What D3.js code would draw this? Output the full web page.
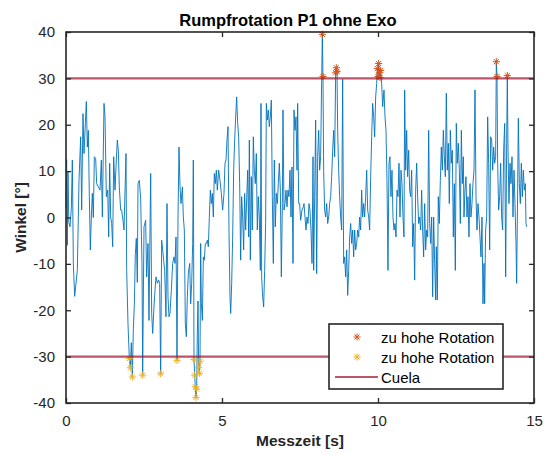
<!DOCTYPE html>
<html>
<head>
<meta charset="utf-8">
<script src="https://cdn.jsdelivr.net/npm/d3@7/dist/d3.min.js"></script>
<style>
  html, body { margin: 0; padding: 0; background: #fff; }
  svg { display: block; font-family: Arial, "Liberation Sans", Helvetica, sans-serif; }
</style>
</head>
<body>
<svg id="chart" width="545" height="454"></svg>
<script>
// Rumpfrotation, P1 ohne Exo: [Messzeit s, Winkel °]
const rotation = [
  [0.000, 2], [0.020, 12.5], [0.040, -6], [0.064, 10], [0.090, -1], [0.128, -2], [0.171, 2],
  [0.203, 12.4], [0.235, -10], [0.278, -17], [0.363, -11.4], [0.417, 8], [0.470, 17.4],
  [0.502, 1.6], [0.545, 22.4], [0.577, 13.8], [0.620, 20.3], [0.652, 25], [0.684, 15.2],
  [0.716, 18.8], [0.748, 4.5], [0.780, -7], [0.812, 0.1], [0.844, 5.2], [0.876, 0],
  [0.908, 13.1], [0.951, 12.7], [0.983, 7.3], [1.036, 6.6], [1.090, 5.9], [1.133, 12.4],
  [1.165, 0.1], [1.218, 24.6], [1.250, 21.7], [1.293, 4.5], [1.336, 5.9], [1.368, -4.2],
  [1.400, 11.7], [1.432, 0.1], [1.464, -1.3], [1.496, -6.3], [1.528, 13.1], [1.571, 5.9],
  [1.613, 12.4], [1.645, 16.7], [1.677, 14.5], [1.709, 6.6], [1.752, 1.6], [1.784, 1.6],
  [1.827, -0.6], [1.859, -2.7], [1.923, 13.8], [1.945, -11.4], [1.987, -22.9], [2.030, -30.4],
  [2.062, -32.4], [2.094, -27], [2.126, -34.4], [2.158, -24], [2.190, -19], [2.222, -8],
  [2.254, -4.5], [2.286, -14], [2.308, 7.3], [2.350, 8], [2.393, 4], [2.436, -10], [2.457, -34],
  [2.500, -2], [2.553, -0.6], [2.585, -12.8], [2.628, -5.6], [2.660, -22.2], [2.692, -2.7],
  [2.714, 9.5], [2.746, -20.7], [2.778, -25], [2.820, -19.3], [2.853, -15.7], [2.885, -12.8],
  [2.927, -14.2], [2.970, -13.5], [3.002, -14.2], [3.034, -33.7], [3.066, -4.9], [3.098, -7],
  [3.130, -9.2], [3.162, -11.4], [3.205, -21.4], [3.237, 3], [3.269, -17.1], [3.301, -21.4],
  [3.333, -20.7], [3.376, -15.7], [3.419, -9.9], [3.462, -8.5], [3.494, -9.9], [3.526, -4.2],
  [3.558, -30.8], [3.590, 0.1], [3.622, 15.2], [3.654, 6.6], [3.686, 3], [3.729, 6.6],
  [3.761, 0.1], [3.793, -2.7], [3.825, -22.9], [3.857, -25.7], [3.889, -17.1], [3.921, -12.1],
  [3.964, -9.9], [3.996, -18.6], [4.028, -14.2], [4.060, -5.6], [4.081, 12.4], [4.103, -30.6],
  [4.124, -34], [4.145, -36.5], [4.167, -38.8], [4.188, -37], [4.209, -25], [4.231, -18],
  [4.252, -32.3], [4.274, -33.6], [4.295, -31], [4.316, -5.6], [4.338, -18.6], [4.370, -22.2],
  [4.402, -8.5], [4.434, -9.2], [4.466, -5.6], [4.498, -5.6], [4.530, -4.9], [4.562, -6.3],
  [4.594, 0.1], [4.626, 5.9], [4.658, 3], [4.690, 5.2], [4.722, 0.1], [4.754, 9.5],
  [4.786, 7.3], [4.818, 10.2], [4.850, 5.9], [4.893, 10.2], [4.936, 8], [4.979, 5.2],
  [5.021, 1.6], [5.064, 5.2], [5.096, 11.7], [5.128, 12.4], [5.160, 16.7], [5.192, 19.6],
  [5.224, -2.7], [5.256, -17.1], [5.278, -20.7], [5.310, -14.2], [5.342, -4.2], [5.374, 10.2],
  [5.406, 16.7], [5.438, 21.7], [5.470, 26], [5.502, 20.3], [5.534, 17.4], [5.566, 7.3],
  [5.598, -9.2], [5.630, 4.5], [5.662, 0.1], [5.694, -7], [5.726, 5.2], [5.758, -2.7],
  [5.790, 3.8], [5.823, 10.2], [5.855, -4.2], [5.876, 16.7], [5.908, -9.2], [5.940, 8.8],
  [5.972, -2.7], [6.004, 17.4], [6.036, 10.2], [6.068, 7.3], [6.100, 13.8], [6.132, -2.7],
  [6.164, 4.5], [6.196, 0.1], [6.229, -11.4], [6.250, 24.6], [6.271, -12.8], [6.303, -17.1],
  [6.335, -19.3], [6.367, -11.4], [6.399, -1.3], [6.421, 24.6], [6.453, 21], [6.485, 23.2],
  [6.517, 19.6], [6.549, 21.7], [6.581, 25.3], [6.613, 4.5], [6.645, -9.9], [6.677, 12.4],
  [6.709, -2], [6.741, 5.2], [6.773, 3], [6.805, 7.3], [6.837, 11.7], [6.870, 5.9],
  [6.902, -12.8], [6.934, 3], [6.955, 23.2], [6.987, 1.6], [7.019, 3], [7.051, 5.9],
  [7.083, 2.3], [7.115, 5.9], [7.147, 4.5], [7.179, 10.2], [7.211, 0.1], [7.244, 10.9],
  [7.276, -9.9], [7.308, 23.2], [7.340, 18.8], [7.372, 21.7], [7.404, 10.2], [7.425, 24.6],
  [7.457, 3], [7.489, 3], [7.521, -0.6], [7.564, 1.6], [7.607, 2.3], [7.628, 3],
  [7.660, 0.1], [7.692, -2.7], [7.724, 0.1], [7.756, -1.3], [7.788, 3], [7.820, 1.6],
  [7.852, -2.7], [7.885, -9.9], [7.917, 13.1], [7.938, -11.4], [7.970, 4.5], [8.002, 21],
  [8.034, -12.1], [8.066, 13.1], [8.098, 18.8], [8.130, 10.2], [8.162, 13.1], [8.194, 29.6],
  [8.216, 39.5], [8.237, 30.4], [8.258, 10.2], [8.290, 1.6], [8.322, 0.1], [8.355, 3],
  [8.387, -1.3], [8.419, 0.1], [8.451, 3], [8.483, 4.5], [8.515, 8.8], [8.547, 14.5],
  [8.579, 18.8], [8.611, 13.1], [8.643, 31.2], [8.664, 32.3], [8.686, 31.5], [8.707, 18.8],
  [8.739, 10.2], [8.771, 4.5], [8.803, 0.1], [8.835, -2.7], [8.867, 29.8], [8.899, -9.9],
  [8.931, -8.5], [8.963, -12.8], [8.996, -7], [9.028, -16.8], [9.060, -11.4], [9.092, -4.2],
  [9.124, -1.3], [9.156, -5.6], [9.188, -2.7], [9.220, -8.5], [9.252, -2.7], [9.284, -7],
  [9.316, -5.6], [9.348, -2.7], [9.380, -4.2], [9.412, 0.1], [9.444, -2.7], [9.476, 5.9],
  [9.508, 0.1], [9.540, 3], [9.572, 0.1], [9.604, 4.5], [9.637, 10.2], [9.669, 1.6],
  [9.701, 0.1], [9.733, -2.7], [9.765, 8.8], [9.797, 17.4], [9.829, 24.6], [9.861, 21.7],
  [9.893, 17.4], [9.925, 26], [9.957, 28.9], [9.979, 32.1], [10.000, 30.4], [10.021, 33.2],
  [10.043, 31.2], [10.064, 30.2], [10.085, 31.7], [10.117, 28.9], [10.150, 23.9], [10.192, 27.5],
  [10.224, 21.7], [10.256, 18.8], [10.288, 8], [10.320, -11.4], [10.352, 11.7], [10.384, 13.1],
  [10.416, 4.5], [10.448, 10.2], [10.480, 0.1], [10.513, -2.7], [10.545, -1.3], [10.577, -4.2],
  [10.609, 5.9], [10.641, 4.5], [10.673, 11.7], [10.705, 0.1], [10.737, 10.2], [10.769, 7.3],
  [10.801, 0.1], [10.833, -4.2], [10.854, 27.5], [10.886, 10.2], [10.918, 18.8], [10.950, 8.8],
  [10.983, 14.5], [11.015, 5.9], [11.047, 4.5], [11.079, 10.2], [11.111, -6.3], [11.143, -1.3],
  [11.175, -13.5], [11.207, 5.9], [11.239, 11.7], [11.271, 4.5], [11.303, -1.3], [11.335, 0.1],
  [11.367, -2.7], [11.399, 5.9], [11.431, -2.7], [11.463, -8.5], [11.495, 3], [11.527, -7],
  [11.560, -2.7], [11.592, -4.2], [11.624, 18.8], [11.656, -1.3], [11.688, -5.6], [11.720, 0.1],
  [11.752, -17.1], [11.784, 0.1], [11.816, -9.9], [11.848, -17.8], [11.869, -6.3], [11.901, -17.8],
  [11.933, 4.5], [11.965, -1.3], [11.998, 8], [12.030, 15.2], [12.062, 10.2], [12.094, 18.8],
  [12.126, 13.1], [12.158, 8.8], [12.190, 26.8], [12.222, 10.2], [12.254, 16], [12.286, 3],
  [12.318, 18.8], [12.350, 11.7], [12.382, 14.5], [12.414, -4.2], [12.446, 7.3], [12.478, -11.4],
  [12.510, 20.3], [12.542, 11.7], [12.574, 16], [12.607, 10.2], [12.639, -1.3], [12.671, 18.8],
  [12.703, 7.3], [12.735, 13.1], [12.756, 0.1], [12.788, 5.9], [12.820, 8.8], [12.852, 0.1],
  [12.884, 4.5], [12.916, -4.2], [12.948, 7.3], [12.980, 0.1], [13.012, 3], [13.044, 7.3],
  [13.077, 10.2], [13.109, 27.5], [13.141, 4.5], [13.173, -2.7], [13.205, 3], [13.237, 0.1],
  [13.269, -4.2], [13.301, -8.5], [13.333, 0.1], [13.365, -18.6], [13.397, -9.9], [13.418, -18.6],
  [13.450, -2.7], [13.483, 0.1], [13.515, 21.7], [13.547, 11.7], [13.579, -7], [13.611, 17.4],
  [13.643, 16.7], [13.675, 10.2], [13.707, 15.2], [13.739, 11.7], [13.771, 13.1], [13.792, 33.6],
  [13.814, 30.4], [13.835, 11.7], [13.867, 1.6], [13.899, 4.5], [13.931, 11.7], [13.963, 0.1],
  [13.995, -2.7], [14.027, 14.5], [14.060, 20.3], [14.092, -12.8], [14.124, 16], [14.145, 30.6],
  [14.166, 15.2], [14.198, 3], [14.230, 11.7], [14.262, 7.3], [14.295, 13.1], [14.327, 0.1],
  [14.359, 10.2], [14.391, 3], [14.423, -5.6], [14.444, -14.2], [14.476, 5.9], [14.498, 21.4],
  [14.530, 7.3], [14.562, 3], [14.594, 11.7], [14.626, 4.5], [14.658, 10.2], [14.690, 5.9],
  [14.722, 7.3], [14.743, -1.3], [14.765, -2]
];

// Grenzwerte (Cuela) in Grad
const cuelaLimits = [30, -30];

const xTicks = [0, 5, 10, 15];
const yTicks = [-40, -30, -20, -10, 0, 10, 20, 30, 40];

const legendLabels = ["zu hohe Rotation", "zu hohe Rotation", "Cuela"];

const colors = {
  line: "#0072BD",
  high: "#D95319",
  low: "#EDB120",
  cuela: "#A2142F",
  axis: "#262626"
};

const svg = d3.select("#chart");
const plot = { left: 66, right: 534, top: 32, bottom: 403 };

const x = d3.scaleLinear().domain([0, 15]).range([plot.left, plot.right]);
const y = d3.scaleLinear().domain([-40, 40]).range([plot.bottom, plot.top]);

// Tick labels with a plain hyphen as minus sign
const plainNumber = d => String(d);

const tooHigh = rotation.filter(d => d[1] > cuelaLimits[0]);
const tooLow = rotation.filter(d => d[1] < cuelaLimits[1]);

// Messsignal
svg.append("path")
  .datum(rotation)
  .attr("fill", "none")
  .attr("stroke", colors.line)
  .attr("stroke-width", 0.9)
  .attr("stroke-linejoin", "round")
  .attr("d", d3.line().x(d => x(d[0])).y(d => y(d[1])));

// Asterisk marker (+ and x combined)
function asterisk(sel, r) {
  const a = r * Math.SQRT1_2;
  sel.append("path")
    .attr("d", `M${-r},0H${r}M0,${-r}V${r}M${-a},${-a}L${a},${a}M${-a},${a}L${a},${-a}`);
}

function drawMarkers(data, color) {
  svg.append("g")
    .selectAll("g")
    .data(data)
    .join("g")
    .attr("transform", d => `translate(${x(d[0])},${y(d[1])})`)
    .attr("stroke", color)
    .attr("stroke-width", 1)
    .attr("fill", "none")
    .each(function () { asterisk(d3.select(this), 3.6); });
}
drawMarkers(tooHigh, colors.high);
drawMarkers(tooLow, colors.low);

// Cuela-Grenzen
svg.append("g")
  .selectAll("line")
  .data(cuelaLimits)
  .join("line")
  .attr("x1", x(0)).attr("x2", x(15))
  .attr("y1", d => y(d)).attr("y2", d => y(d))
  .attr("stroke", colors.cuela)
  .attr("stroke-opacity", 0.72)
  .attr("stroke-width", 2.2);

// Achsen (Ticks nach innen, Rahmen rundum)
const tickLen = 5;
function styleAxis(g) {
  g.selectAll(".domain").remove();
  g.selectAll("line").attr("stroke", colors.axis).attr("stroke-width", 1.3);
  g.selectAll("text").attr("fill", colors.axis).attr("font-size", 15);
}

svg.append("g")
  .attr("transform", `translate(0,${plot.bottom})`)
  .call(d3.axisBottom(x).tickValues(xTicks).tickFormat(plainNumber)
    .tickSizeInner(-tickLen).tickSizeOuter(0).tickPadding(12))
  .call(styleAxis);

svg.append("g")
  .attr("transform", `translate(0,${plot.top})`)
  .call(d3.axisTop(x).tickValues(xTicks).tickSizeInner(-tickLen).tickSizeOuter(0).tickFormat(""))
  .call(styleAxis);

svg.append("g")
  .attr("transform", `translate(${plot.left},0)`)
  .call(d3.axisLeft(y).tickValues(yTicks).tickFormat(plainNumber)
    .tickSizeInner(-tickLen).tickSizeOuter(0).tickPadding(11))
  .call(styleAxis);

svg.append("g")
  .attr("transform", `translate(${plot.right},0)`)
  .call(d3.axisRight(y).tickValues(yTicks).tickSizeInner(-tickLen).tickSizeOuter(0).tickFormat(""))
  .call(styleAxis);

svg.append("rect")
  .attr("x", plot.left).attr("y", plot.top)
  .attr("width", plot.right - plot.left).attr("height", plot.bottom - plot.top)
  .attr("fill", "none")
  .attr("stroke", colors.axis)
  .attr("stroke-width", 1.6);

// Titel und Achsenbeschriftungen
svg.append("text")
  .attr("x", 288).attr("y", 26)
  .attr("text-anchor", "middle")
  .attr("font-size", 16.5).attr("font-weight", "bold")
  .attr("fill", "#000")
  .text("Rumpfrotation P1 ohne Exo");

svg.append("text")
  .attr("x", (plot.left + plot.right) / 2).attr("y", 446)
  .attr("text-anchor", "middle")
  .attr("font-size", 15.5).attr("font-weight", "bold")
  .attr("fill", colors.axis)
  .text("Messzeit [s]");

svg.append("text")
  .attr("transform", `translate(26,${(plot.top + plot.bottom) / 2}) rotate(-90)`)
  .attr("text-anchor", "middle")
  .attr("font-size", 15.5).attr("font-weight", "bold")
  .attr("fill", colors.axis)
  .text("Winkel [°]");

// Legende
const legend = svg.append("g").attr("transform", "translate(329,324)");
legend.append("rect")
  .attr("width", 174).attr("height", 65)
  .attr("fill", "#fff")
  .attr("stroke", colors.axis)
  .attr("stroke-width", 1.6);

const rowY = [13, 33, 53];
legendLabels.forEach((label, i) => {
  const row = legend.append("g").attr("transform", `translate(0,${rowY[i]})`);
  if (i < 2) {
    const m = row.append("g")
      .attr("transform", "translate(28,0)")
      .attr("stroke", i === 0 ? colors.high : colors.low)
      .attr("stroke-width", 1)
      .attr("fill", "none");
    asterisk(m, 3.6);
  } else {
    row.append("line")
      .attr("x1", 6).attr("x2", 49).attr("y1", 0).attr("y2", 0)
      .attr("stroke", colors.cuela)
      .attr("stroke-opacity", 0.72)
      .attr("stroke-width", 2.2);
  }
  row.append("text")
    .attr("x", 52).attr("y", 5.5)
    .attr("font-size", 15)
    .attr("fill", "#000")
    .text(label);
});
</script>
</body>
</html>
